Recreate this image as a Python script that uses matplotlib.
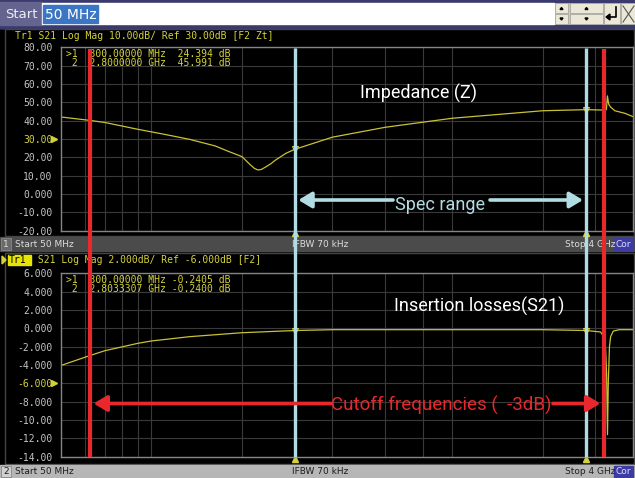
import numpy as np
import matplotlib
matplotlib.use("Agg")
import matplotlib.pyplot as plt
from matplotlib.patches import Rectangle, Polygon

# ---- data (frequency in Hz, level in dB) ----
z_freq = [50e6, 62e6, 70e6, 90e6, 110e6, 134e6, 163e6, 180e6, 200e6, 213e6, 220e6,
          226e6, 232e6, 239e6, 250e6, 258e6, 280e6, 300e6, 400e6, 600e6, 1000e6,
          2000e6, 2800e6, 3152e6, 3262e6, 3288e6, 3320e6, 3370e6, 3482e6, 3758e6, 4000e6]
z_db = [42.0, 40.2, 39.0, 35.3, 32.6, 29.8, 26.2, 23.3, 20.4, 16.0, 14.0,
        13.1, 13.4, 14.6, 16.6, 18.4, 22.2, 24.4, 31.0, 36.4, 41.3,
        45.4, 46.0, 45.8, 46.0, 53.5, 49.0, 47.4, 45.4, 44.0, 42.2]

s21_freq = [50e6, 62e6, 70e6, 90e6, 100e6, 134e6, 200e6, 300e6, 400e6, 1000e6, 2000e6,
            2800e6, 3120e6, 3200e6, 3240e6, 3268e6, 3290e6, 3310e6, 3340e6, 3370e6,
            3440e6, 3600e6, 4000e6]
s21_db = [-4.05, -3.0, -2.44, -1.64, -1.38, -0.91, -0.48, -0.24, -0.15, -0.15, -0.15,
          -0.24, -0.4, -0.9, -2.0, -5.0, -11.6, -6.0, -2.0, -0.9,
          -0.3, -0.15, -0.15]

marker_freq = [300e6, 2.8e9]
z_marker_db = [24.394, 45.991]
s21_marker_db = [-0.2405, -0.2400]
cutoff_freq = [62.5e6, 3.2e9]

grid_freq = [60e6, 70e6, 80e6, 90e6, 100e6, 200e6, 300e6, 400e6, 600e6, 800e6,
             1e9, 2e9, 3e9]

z_ticks = [80, 70, 60, 50, 40, 30, 20, 10, 0, -10, -20]
z_labels = ["80.00", "70.00", "60.00", "50.00", "40.00", "30.00", "20.00",
            "10.00", "0.000", "-10.00", "-20.00"]
s21_ticks = [6, 4, 2, 0, -2, -4, -6, -8, -10, -12, -14]
s21_labels = ["6.000", "4.000", "2.000", "0.000", "-2.000", "-4.000", "-6.000",
              "-8.000", "-10.00", "-12.00", "-14.00"]

top_marker_text = [">1  300.00000 MHz  24.394 dB", " 2  2.8000000 GHz  45.991 dB"]
bot_marker_text = [">1  300.00000 MHz -0.2405 dB", " 2  2.8033307 GHz -0.2400 dB"]

# ---- colours / fonts ----
YEL = "#d4d23a"
TRACE = "#c9c235"
GRID = "#3a3a3a"
FRAME = "#858585"
TICK = "#c4c4c4"
RED = "#e8282c"
CYAN = "#b2dce4"
MONO = "DejaVu Sans Mono"
NARROW = ["Liberation Sans Narrow", "Roboto", "DejaVu Sans"]

W, H = 635, 478
fig = plt.figure(figsize=(W / 100, H / 100), dpi=100)
fig.patch.set_facecolor("black")

# background axes in pixel coordinates
bg = fig.add_axes([0, 0, 1, 1], zorder=0)
bg.set_xlim(0, W)
bg.set_ylim(H, 0)
bg.axis("off")
bg.set_facecolor("black")

# toolbar
bg.add_patch(Rectangle((0, 0), W, 28, color="#c8c8d6"))
bg.add_patch(Rectangle((0, 0), W, 2, color="#3a3a6e"))
bg.add_patch(Rectangle((0, 25), W, 3, color="#3a3a6e"))
bg.add_patch(Rectangle((0, 2), 42, 23, color="#64648f"))
bg.text(21, 14, "Start", color="#ececf6", fontsize=9.5, ha="center", va="center")
bg.add_patch(Rectangle((42, 3), 512, 21, color="white"))
bg.add_patch(Rectangle((43, 5), 55, 18, color="#3b76c4"))
bg.text(45, 14.5, "50 MHz", color="white", fontsize=10, ha="left", va="center")
for x0, w in [(555, 13), (570, 33)]:
    for y0 in (3, 14):
        bg.add_patch(Rectangle((x0, y0), w, 10, facecolor="#ebe8d8", edgecolor="#a8a8a0", lw=0.6))
    cx = x0 + w / 2
    bg.add_patch(Polygon([[cx - 1.5, 9.5], [cx + 1.5, 9.5], [cx, 7.5]], color="black"))
    bg.add_patch(Polygon([[cx - 1.5, 18], [cx + 1.5, 18], [cx, 20]], color="black"))
bg.add_patch(Rectangle((604, 3), 16, 21, facecolor="#ebe8d8", edgecolor="#a8a8a0", lw=0.6))
bg.plot([616, 616, 608], [7, 17, 17], color="black", lw=1.2)
bg.add_patch(Polygon([[606, 17], [610, 14], [610, 20]], color="black"))
bg.add_patch(Rectangle((621, 3), 14, 21, facecolor="#ebe8d8", edgecolor="#a8a8a0", lw=0.6))
bg.plot([623, 634], [6, 22], color="#555555", lw=0.8)
bg.plot([623, 634], [22, 6], color="#555555", lw=0.8)

# panel frames
bg.add_patch(Rectangle((5, 29), 629, 207, fill=False, edgecolor="#444444", lw=1))
bg.add_patch(Rectangle((5, 253), 629, 211, fill=False, edgecolor="#444444", lw=1))

# headers
bg.text(15, 36, "Tr1 S21 Log Mag 10.00dB/ Ref 30.00dB [F2 Zt]", color=YEL,
        family=MONO, fontsize=7, ha="left", va="center")
bg.add_patch(Polygon([[2, 256], [2, 264], [6, 260]], color=YEL))
bg.add_patch(Rectangle((8, 255), 23, 10, color="#e6e400"))
bg.text(9, 260, "Tr1", color="black", family=MONO, fontsize=7, ha="left", va="center")
bg.text(32, 260, " S21 Log Mag 2.000dB/ Ref -6.000dB [F2]", color=YEL,
        family=MONO, fontsize=7, ha="left", va="center")

# status bars
for y0, h, fc, tc, num, bc in [(237, 14, "#4b4b4b", "#dcdcdc", "1", "#6a6a6a"),
                               (465, 13, "#b6b6b6", "#1e1e1e", "2", "#d0d0d0")]:
    bg.add_patch(Rectangle((0, y0), W, h, color=fc))
    bg.add_patch(Rectangle((1, y0 + 1), 10, h - 2, facecolor=bc, edgecolor="#888888", lw=0.6))
    yc = y0 + h / 2
    bg.text(6, yc, num, color=tc, fontsize=6.5, ha="center", va="center")
    bg.text(15, yc, "Start 50 MHz", color=tc, fontsize=6.5, ha="left", va="center")
    bg.text(292, yc, "IFBW 70 kHz", color=tc, fontsize=6.5, ha="left", va="center")
    bg.text(565, yc, "Stop 4 GHz", color=tc, fontsize=6.5, ha="left", va="center")
    bg.add_patch(Rectangle((614, y0 + 1), 19, h - 2, color="#3c3ca2"))
    bg.text(623.5, yc, "Cor", color="#dcdcff", fontsize=6.5, ha="center", va="center")

# ---- data axes ----
left, width = 61 / W, 572 / W
ph = 183.4 / H
ax_top = fig.add_axes([left, 1 - 230.7 / H, width, ph], zorder=1)
ax_bot = fig.add_axes([left, 1 - 456.7 / H, width, ph], zorder=1)


def style(ax, ticks, labels, ylim, ref, fdata, ddata, mdb, readout):
    ax.set_facecolor("black")
    ax.set_xscale("log")
    ax.set_xlim(50e6, 4e9)
    ax.set_ylim(*ylim)
    ax.set_xticks(grid_freq)
    ax.set_xticks([], minor=True)
    ax.set_xticklabels([])
    ax.set_yticks(ticks)
    ax.set_yticklabels(labels, family=MONO, fontsize=7, color=TICK)
    ax.tick_params(length=0, pad=6)
    for t, lab in zip(ax.get_yticklabels(), ticks):
        if lab == ref:
            t.set_color(YEL)
    ax.grid(True, color=GRID, lw=0.8)
    for s in ax.spines.values():
        s.set_color(FRAME)
        s.set_linewidth(1)
    ax.plot(fdata, ddata, color=TRACE, lw=0.9)
    ax.plot(marker_freq, mdb, ls="none", marker="v", ms=4, mfc="none", mec=YEL, mew=0.8)
    ax.plot(-0.012, ref, transform=ax.get_yaxis_transform(), marker=">", ms=5,
            color=YEL, clip_on=False)
    ax.plot(marker_freq, [-0.012] * 2, transform=ax.get_xaxis_transform(), ls="none",
            marker="^", ms=5, color=YEL, clip_on=False)
    for i, line in enumerate(readout):
        ax.text(0.008, 0.965 - i * 0.05, line, transform=ax.transAxes, color=YEL,
                family=MONO, fontsize=7, ha="left", va="center")


style(ax_top, z_ticks, z_labels, (-20, 80), 30, z_freq, z_db, z_marker_db, top_marker_text)
style(ax_bot, s21_ticks, s21_labels, (-14, 6), -6, s21_freq, s21_db, s21_marker_db, bot_marker_text)

# ---- overlay: marker lines and annotations ----
ov = fig.add_axes([left, 0, width, 1], zorder=3)
ov.set_xscale("log")
ov.set_xlim(50e6, 4e9)
ov.set_ylim(H, 0)
ov.axis("off")
ov.patch.set_alpha(0)

ov.vlines(marker_freq, 48, 457, color=CYAN, lw=2.4)
ov.vlines(cutoff_freq, 49, 457, color=RED, lw=3)

arrow_kw = dict(arrowstyle="-|>,head_length=0.5,head_width=0.3", mutation_scale=16,
                shrinkA=0, shrinkB=2.5)
for f, tail in zip(marker_freq, [393, 490]):
    ov.annotate("", xy=(f, 200), xytext=(tail, 200), textcoords=bg.transData,
                arrowprops=dict(color=CYAN, lw=2.6, **arrow_kw))
for f, tail in zip(cutoff_freq, [331, 553]):
    ov.annotate("", xy=(f, 403.5), xytext=(tail, 403.5), textcoords=bg.transData,
                arrowprops=dict(color=RED, lw=2.6, **arrow_kw))

bg_t = bg.transData
ov.text(418, 93, "Impedance (Z)", transform=bg_t, color="white", family=NARROW,
        fontsize=13, ha="center", va="center")
ov.text(440, 205, "Spec range", transform=bg_t, color=CYAN, family=NARROW,
        fontsize=13, ha="center", va="center")
ov.text(479, 306, "Insertion losses(S21)", transform=bg_t, color="white", family=NARROW,
        fontsize=13, ha="center", va="center")
ov.text(441, 405, "Cutoff frequencies (  -3dB)", transform=bg_t, color=RED, family=NARROW,
        fontsize=13.5, ha="center", va="center")

fig.savefig("out.png", dpi=100, facecolor=fig.get_facecolor())
